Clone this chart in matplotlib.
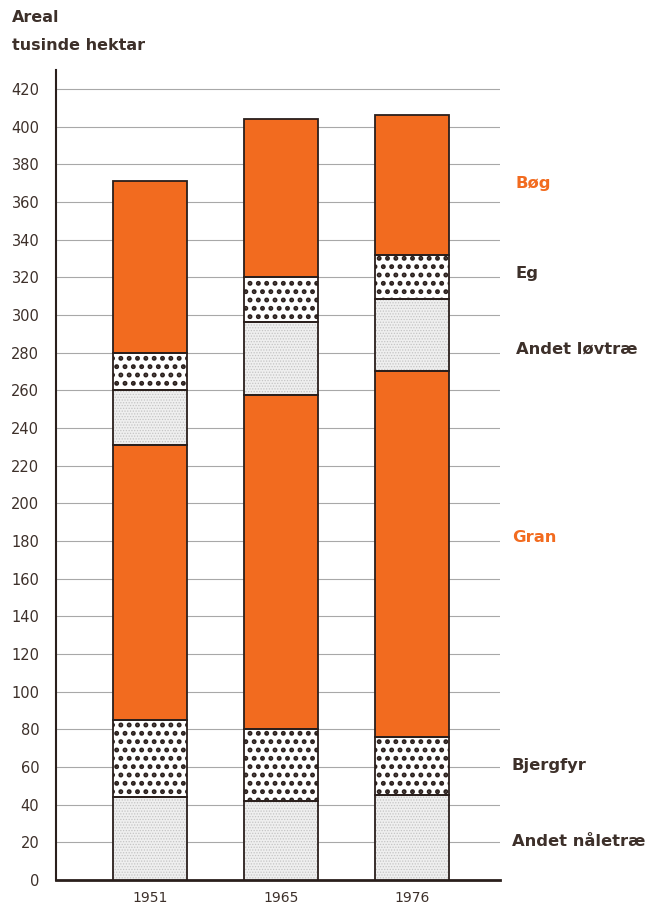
import matplotlib
matplotlib.use("Agg")
import matplotlib.pyplot as plt
import numpy as np

years = ["1951", "1965", "1976"]
categories = ["Andet nåletræ", "Bjergfyr", "Gran", "Andet løvtræ", "Eg", "Bøg"]
andet_naaletrae = [44, 42, 45]
bjergfyr = [41, 38, 31]
gran = [146, 177.5, 194]
andet_loevtrae = [29, 38.5, 38.5]
eg = [20, 24, 23.5]
boeg = [91, 84, 74]
series = [andet_naaletrae, bjergfyr, gran, andet_loevtrae, eg, boeg]
yticks = list(range(0, 421, 20))

ORANGE = "#F26B1F"
TEXT = "#3d302a"
styles = {
    "Andet nåletræ": dict(fc="#efefef", hatch="......", hc="#c4c4c4", lw=0.6),
    "Bjergfyr": dict(fc="#ffffff", hatch="..", hc="#2a1f1c", lw=2.3),
    "Gran": dict(fc=ORANGE, hatch=None, hc=None, lw=None),
    "Andet løvtræ": dict(fc="#efefef", hatch="......", hc="#c4c4c4", lw=0.6),
    "Eg": dict(fc="#ffffff", hatch="..", hc="#2a1f1c", lw=2.3),
    "Bøg": dict(fc=ORANGE, hatch=None, hc=None, lw=None),
}
label_colors = {"Bøg": ORANGE, "Gran": ORANGE}
label_y = {"Bøg": 370, "Eg": 322, "Andet løvtræ": 282, "Gran": 181.6,
           "Bjergfyr": 61, "Andet nåletræ": 20.7}

fig = plt.figure(figsize=(6.48, 9.10), dpi=100)
ax = fig.add_axes([56/648, 1-880/910, (500-56)/648, (880-70)/910])

x = np.arange(len(years))
width = 0.565
bottom = np.zeros(len(years))
for name, vals in zip(categories, series):
    st = styles[name]
    vals = np.array(vals, dtype=float)
    if st["hatch"]:
        with plt.rc_context({"hatch.linewidth": st["lw"]}):
            ax.bar(x, vals, width, bottom=bottom, color=st["fc"], edgecolor=st["hc"],
                   hatch=st["hatch"], linewidth=0, zorder=3)
    else:
        ax.bar(x, vals, width, bottom=bottom, color=st["fc"], linewidth=0, zorder=3)
    ax.bar(x, vals, width, bottom=bottom, fill=False, edgecolor="#2a1f1c",
           linewidth=1.3, zorder=4)
    bottom += vals

ax.set_xlim((56-150)/131, (500-150)/131)
ax.set_ylim(0, 430)
ax.set_yticks(yticks)
ax.set_yticklabels([str(t) for t in yticks], fontsize=10.5, color=TEXT)
ax.set_xticks(x)
ax.set_xticklabels(years, fontsize=10, color=TEXT)
ax.tick_params(axis="y", length=0, pad=12)
ax.tick_params(axis="x", length=0, pad=8)
ax.grid(axis="y", color="#a8a8a8", linewidth=0.8, zorder=0)
for s in ["top", "right"]:
    ax.spines[s].set_visible(False)
ax.spines["left"].set_color("#2a1f1c")
ax.spines["left"].set_linewidth(1.5)
ax.spines["bottom"].set_color("#2a1f1c")
ax.spines["bottom"].set_linewidth(2)

for name in categories:
    xo = 1.027 if name in ("Andet nåletræ", "Gran", "Bjergfyr") else 1.036
    ax.text(xo, label_y[name], name, transform=ax.get_yaxis_transform(),
            fontsize=11.8, fontweight="bold", color=label_colors.get(name, TEXT),
            va="center", ha="left")

fig.text(12/648, 1-18/910, "Areal", fontsize=11.5, fontweight="bold",
         color=TEXT, va="center", ha="left")
fig.text(12/648, 1-45/910, "tusinde hektar", fontsize=11.5, fontweight="bold",
         color=TEXT, va="center", ha="left")

fig.savefig("out.png", dpi=100, facecolor="white")
